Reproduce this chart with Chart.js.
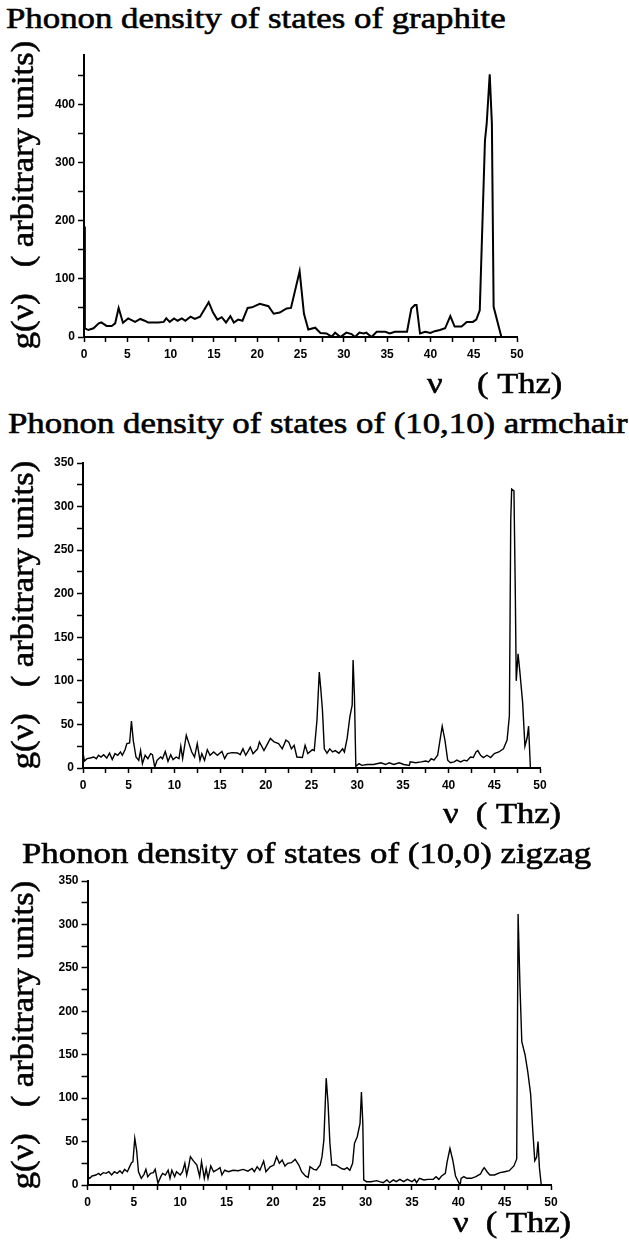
<!DOCTYPE html>
<html><head><meta charset="utf-8">
<script src="https://cdn.jsdelivr.net/npm/chart.js@4.4.1/dist/chart.umd.min.js"></script>
<style>
html,body{margin:0;padding:0;background:#fff;width:629px;height:1245px;overflow:hidden;position:relative;}
canvas{position:absolute;left:0;}
.t{position:absolute;font-family:"Liberation Serif","Times New Roman",serif;color:#000;white-space:pre;line-height:1;z-index:5;-webkit-text-stroke:0.6px #000;}
.ttl{font-size:30px;line-height:30px;transform-origin:0 0;transform:scaleX(1.16);}
.xt{font-size:30px;line-height:30px;transform-origin:0 0;transform:scaleX(1.15);}
.yt{font-size:32px;line-height:32px;transform-origin:50% 50%;transform:translate(-50%,-50%) rotate(-90deg) scaleX(1.08);}
</style></head><body>

<div class="t ttl" style="left:6px;top:3px;">Phonon density of states of graphite</div>
<div class="t ttl" style="left:8px;top:408px;">Phonon density of states of (10,10) armchair</div>
<div class="t ttl" style="left:22px;top:838px;">Phonon density of states of (10,0) zigzag</div>

<div class="t yt" style="left:22px;top:195px;">g(ν)   ( arbitrary units)</div>
<div class="t yt" style="left:22px;top:615px;">g(ν)   ( arbitrary units)</div>
<div class="t yt" style="left:22px;top:1035px;">g(ν)   ( arbitrary units)</div>

<div class="t xt" style="left:427px;top:368px;">ν    ( Thz)</div>
<div class="t xt" style="left:443px;top:798px;">ν  ( Thz)</div>
<div class="t xt" style="left:453px;top:1207px;">ν  ( Thz)</div>

<canvas id="c1" width="629" height="330" style="top:40px"></canvas>
<canvas id="c2" width="629" height="365" style="top:445px"></canvas>
<canvas id="c3" width="629" height="375" style="top:860px"></canvas>

<script>
// ---- tick values ----
const xTicksAll = [0,2.5,5,7.5,10,12.5,15,17.5,20,22.5,25,27.5,30,32.5,35,37.5,40,42.5,45,47.5,50];
const xTickLabels = [0,5,10,15,20,25,30,35,40,45,50];
const graphiteYTicksAll = [0,50,100,150,200,250,300,350,400,450];
const graphiteYTickLabels = [0,100,200,300,400];
const tubeYTicksAll = [0,25,50,75,100,125,150,175,200,225,250,275,300,325,350];
const tubeYTickLabels = [0,50,100,150,200,250,300,350];

// ---- graphite ----
const graphiteFreq = [0,0.1,0.5,1.1,1.7,2.0,2.6,3.2,3.6,4.0,4.5,5.1,5.9,6.5,7.0,7.4,8.6,9.2,9.5,9.9,10.4,10.8,11.3,11.7,12.3,12.8,13.4,14.4,14.9,15.4,15.9,16.4,16.9,17.3,17.8,18.3,18.9,19.4,20.3,21.3,21.9,22.6,23.4,23.9,24.9,25.4,25.9,26.7,27.3,28.0,28.6,29.0,29.6,30.3,30.9,31.3,31.8,32.3,32.6,33.2,33.8,34.8,35.3,35.9,37.3,37.8,38.2,38.4,38.8,39.4,40.0,40.5,41.1,41.7,42.3,42.8,43.6,44.2,44.9,45.3,45.7,46.3,46.5,46.85,47.1,47.3,48.2];
const graphiteDos  = [190,15,12,15,23.5,25,19,19,23.5,50,24.6,32,26,31,28,25,25,26,32,26,32,28,32,28,35,31,35,60,42,30,34,25,36,25,30,28,50,51,57,53,40,42,49,50,113,40,13,16,7,6,0.5,7.5,0,7.5,5,0,7.5,6,7.5,0,9,9,6,9,9,49,55,55,6,9,7,10,12,15,36,18,18,26,26,30,46,338,367,452,367,52,0];

// ---- (10,10) armchair ----
const armchairFreq = [0,0.15,0.44,0.8,1.17,1.46,1.7,1.97,2.26,2.6,2.9,3.2,3.5,3.8,4.1,4.3,4.6,4.8,5.1,5.3,5.5,5.8,6.1,6.3,6.5,6.8,7.1,7.4,7.6,7.85,8.1,8.5,8.7,9.0,9.3,9.6,9.85,10.2,10.5,10.7,10.9,11.3,11.6,11.9,12.2,12.5,12.8,13.0,13.3,13.6,13.9,14.3,14.7,15.2,15.5,15.8,16.3,16.9,17.2,17.5,17.8,18.1,18.3,18.6,19.1,19.3,19.8,20.1,20.5,20.9,21.4,21.8,22.2,22.5,22.8,23.1,23.4,24.0,24.3,24.6,25.1,25.3,25.6,25.85,26.0,26.2,26.4,26.7,27.0,27.3,27.6,28.0,28.4,28.6,28.9,29.2,29.45,29.55,29.7,29.85,30.2,30.5,31.1,31.8,32.6,33.1,33.5,34.0,34.6,35.1,35.7,35.8,36.4,37.0,37.5,37.8,38.1,38.4,38.8,39.0,39.3,39.6,39.9,40.2,40.6,40.9,41.3,41.7,42.0,42.4,42.7,43.0,43.2,43.5,43.8,44.2,44.6,45.0,45.5,46.0,46.4,46.65,46.8,46.9,47.15,47.3,47.4,47.6,47.8,48.1,48.35,48.6,48.75,48.95];
const armchairDos  = [18,8,10.7,11.5,12.6,10.7,14.6,12.6,15.3,11.5,17,9.6,16.5,14.6,18.4,14.6,21,28,28.7,54,31.8,12.6,8.8,20,5,14.6,10.7,16.5,15.3,1,8.8,12.6,10.7,19,7.7,15.3,9.6,12.6,10.7,25,10.7,37.6,28,18.4,12.6,28,8.8,16.5,8.8,21,14.6,18.4,14.6,19,10.7,16.5,17.6,17.2,15.3,22,14.6,20,24,16.5,22,30,20,26,34,30,28,22,32,30,22,26,12.6,12,26,16.5,21,20,55,110,93,66,22,17,22,18.4,20,17,22,18.4,34,59,72,124,82,2,5,3,4,4,6,4,6,4,6,4,3,7,6,7,8,7,10.7,9,14.6,28,48,32,9,6,7,9,7,9,8,12.6,12,18.4,20,14.6,12,14.6,12,16.5,18.4,22,32,60,285,320,318,200,100,131,110,75,25,35,48,0];

// ---- (10,0) zigzag ----
const zigzagFreq = [0,0.05,0.25,0.5,0.9,1.2,1.4,1.7,2.0,2.3,2.6,2.9,3.2,3.5,3.75,4.0,4.3,4.5,4.75,4.9,5.1,5.3,5.5,5.8,6.1,6.3,6.5,6.8,7.1,7.3,7.6,7.9,8.1,8.4,8.7,8.9,9.1,9.4,9.6,10.0,10.25,10.5,10.7,10.9,11.1,11.4,11.8,12.1,12.3,12.6,12.8,13.0,13.3,13.6,13.9,14.3,14.5,14.8,15.2,15.7,16.25,16.8,17.3,17.75,18.0,18.3,18.6,19.0,19.25,19.7,20.1,20.4,20.7,21.0,21.3,21.6,22.0,22.4,22.8,23.1,23.5,23.8,24.0,24.4,24.7,25.1,25.3,25.5,25.75,25.95,26.15,26.35,26.8,27.4,27.7,28.0,28.3,28.6,28.8,29.1,29.4,29.55,29.7,29.8,30.1,30.6,31.2,31.5,31.9,32.3,32.6,33.0,33.3,33.7,34.1,34.5,35.0,35.3,35.5,35.8,36.3,36.7,37.3,37.6,37.9,38.2,38.6,38.8,39.1,39.4,39.7,40.0,40.2,40.3,40.6,40.9,41.4,41.9,42.4,42.6,42.8,43.1,43.4,43.9,44.5,45.0,45.5,46.0,46.3,46.45,46.65,46.85,47.2,47.5,47.8,48.05,48.25,48.45,48.6,48.75,48.95];
const zigzagDos  = [300,9.6,7.7,10.4,11.5,13.4,11.5,14.2,13.4,15.3,11.5,15.3,13.4,16.5,13.4,18,15.3,20,25.7,26.8,53.7,40,15.3,7.7,12.3,18,9.6,13.4,14.2,18,2,9.6,13.4,11.5,17,7.7,17,9.6,15.3,11.5,15.3,25,11.5,21,32.6,28,23,9.6,26.8,7.7,19,7.7,21.9,15.3,17,20,11.5,17,15.3,17,16.5,18,16,19,15.3,21,17,27.6,15.3,21,23,32.6,25,28.8,21.9,25,25.7,29.5,23,15.3,10.4,8.8,21,18,17.3,23,32.6,52,123,94,48,23,23,19,18,20,17,25,48,55.6,71,107,71,5.8,3.8,3.8,5,3.8,2.7,5.8,2.7,5.8,3.8,6.5,3.8,6.5,3.8,6.5,2.7,7.7,5.8,6.5,6.5,9.6,6.5,10.4,13.4,26.8,42,28.8,10.4,3.8,0,7.7,9.6,7.7,7.7,9.6,12.7,17,20,15.3,11.5,11.5,14.2,15.3,16.5,21.9,30,312,230,165,150,130,105,60,28,32,50,20,0];

const TICK_FONT = {family:'"Liberation Sans", Arial, sans-serif', size:12, weight:'bold'};

function makeChart(id, xs, ys, o) {
  const data = xs.map((x, i) => ({x: x, y: ys[i]}));
  return new Chart(document.getElementById(id), {
    type: 'line',
    data: {datasets: [{data: data, borderColor: '#000', borderWidth: o.lineWidth, pointRadius: 0, tension: 0, fill: false}]},
    options: {
      responsive: false, animation: false, devicePixelRatio: 1,
      layout: {padding: o.pad},
      plugins: {legend: {display: false}, tooltip: {enabled: false}, title: {display: false}},
      scales: {
        x: {
          type: 'linear', min: 0, max: 50,
          afterFit: s => { s.height = 30; },
          afterBuildTicks: s => { s.ticks = xTicksAll.map(v => ({value: v})); },
          ticks: {autoSkip: false, maxRotation: 0, minRotation: 0, padding: 5, color: '#000', font: TICK_FONT,
                  callback: v => xTickLabels.includes(v) ? String(v) : ''},
          grid: {drawOnChartArea: false, drawTicks: true, tickLength: 5, tickColor: '#000', tickWidth: 1.5},
          border: {display: true, color: '#000', width: 2}
        },
        y: {
          type: 'linear', min: 0, max: o.yMax,
          afterFit: s => { s.width = 50; },
          afterBuildTicks: s => { s.ticks = o.yTicksAll.map(v => ({value: v})); },
          ticks: {autoSkip: false, padding: 3, color: '#000', font: TICK_FONT,
                  callback: v => o.yTickLabels.includes(v) ? String(v) : ''},
          grid: {drawOnChartArea: false, drawTicks: true, tickLength: 6, tickColor: '#000', tickWidth: 1.5},
          border: {display: true, color: '#000', width: 2}
        }
      }
    }
  });
}

makeChart('c1', graphiteFreq, graphiteDos, {lineWidth: 2, yMax: 485, yTicksAll: graphiteYTicksAll, yTickLabels: graphiteYTickLabels,
  pad: {top: 15, bottom: 3, left: 34, right: 112}});
makeChart('c2', armchairFreq, armchairDos, {lineWidth: 1.4, yMax: 350, yTicksAll: tubeYTicksAll, yTickLabels: tubeYTickLabels,
  pad: {top: 18, bottom: 12, left: 33, right: 89}});
makeChart('c3', zigzagFreq, zigzagDos, {lineWidth: 1.4, yMax: 350, yTicksAll: tubeYTicksAll, yTickLabels: tubeYTickLabels,
  pad: {top: 21, bottom: 20, left: 37.5, right: 78}});
</script>
</body></html>
